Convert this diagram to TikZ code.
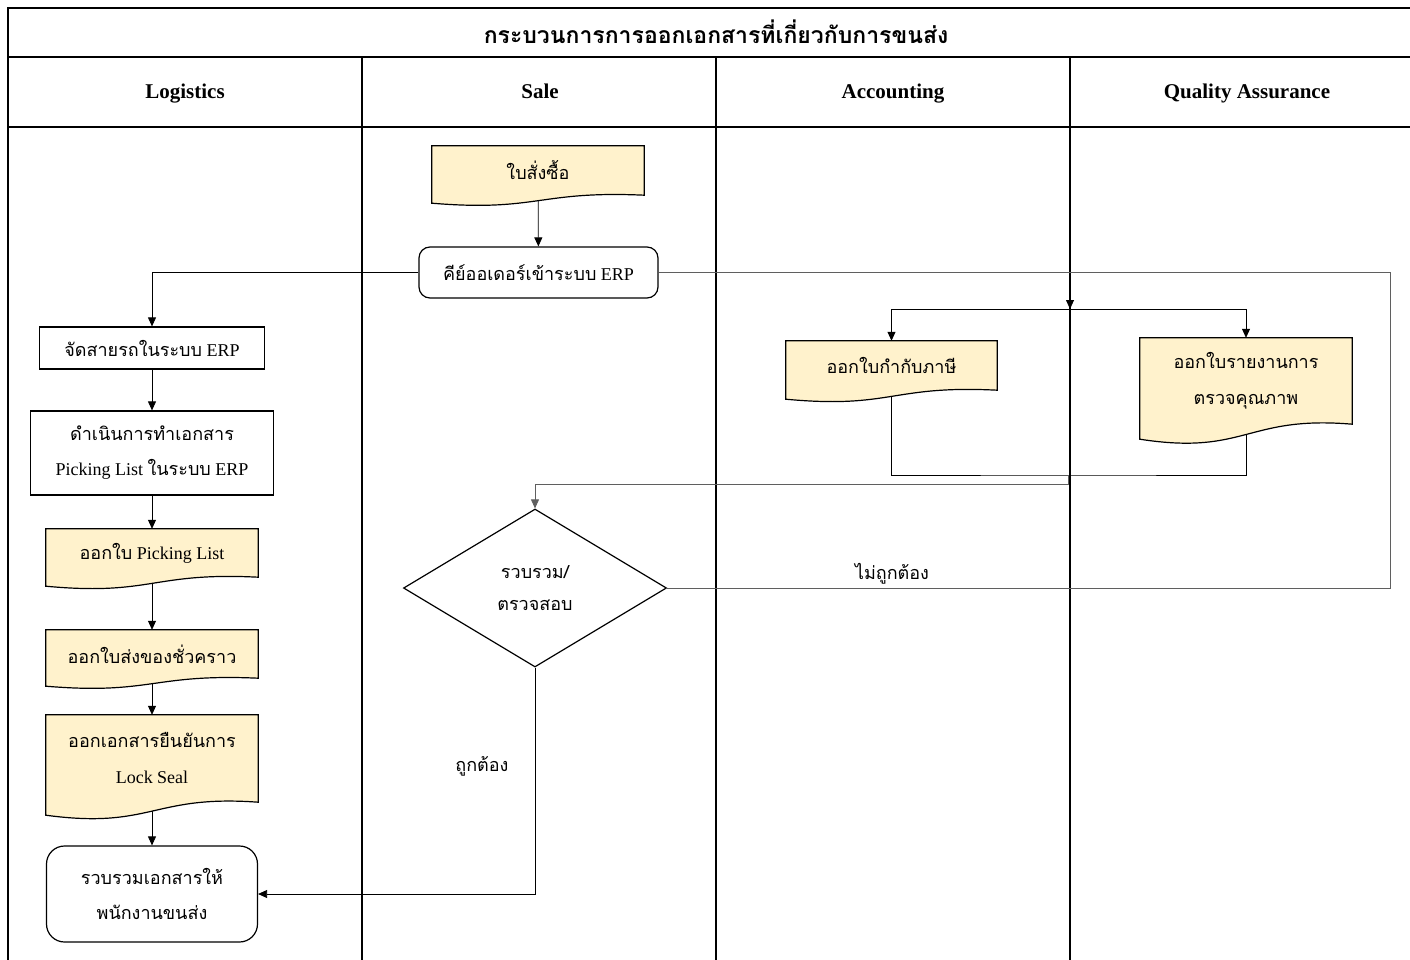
\documentclass[tikz,border=0pt]{standalone}
\usepackage{fontspec}
\setmainfont{Liberation Serif}
\newfontfamily\thai[Script=Thai]{Loma}
\usepackage{tikz}
\usetikzlibrary{arrows.meta,positioning,calc,shapes.geometric,backgrounds}
\definecolor{docyellow}{RGB}{255,242,204}
\definecolor{linegray}{RGB}{95,95,95}
% wavy bottom outline for a document node
\newcommand{\docshape}[2]{%
  \filldraw[docline] (#1.south east) -- (#1.north east) -- (#1.north west) -- ($(#1.south west)+(0,#2)$)
    .. controls ($(#1.south)+(0,2.1*#2)$) and ($(#1.south)+(0,-0.6*#2)$) .. (#1.south east) -- cycle;}

\begin{document}
\begin{tikzpicture}[x=1pt,y=-1pt,>={Triangle[length=9pt,width=8pt]},
 frame/.style={line width=1.5pt},
 box/.style={draw,line width=1.2pt,fill=white,align=center,inner sep=0pt,font=\fontsize{18}{35}\selectfont},
 rbox/.style={box,rounded corners=11pt},
 doc/.style={align=center,inner sep=0pt,font=\fontsize{18}{36}\selectfont},
 docline/.style={draw=black,line width=1.2pt,fill=docyellow},
 dec/.style={diamond,draw,line width=1.2pt,fill=white,align=center,inner sep=0pt,
   minimum width=263,minimum height=158,font=\fontsize{18}{32}\selectfont},
 head/.style={font=\bfseries\fontsize{21}{24}\selectfont,text height=14pt,text depth=4pt},
 lbl/.style={font=\thai\fontsize{18}{22}\selectfont},
 flow/.style={line width=0.8pt},
 flow2/.style={line width=0.8pt,draw=linegray}]
\useasboundingbox (0,0) rectangle (1410,960);
% title and lanes
\node[font=\thai\bfseries\fontsize{23}{26}\selectfont] (ttl) at (716,32) {กระบวนการการออกเอกสารที่เกี่ยวกับการขนส่ง};
\node[head] (hlog) at (185,94) {Logistics};
\node[head] (hsale) at (540,94) {Sale};
\node[head] (hacc) at (893,94) {Accounting};
\node[head] (hqa) at (1247,94) {Quality Assurance};
% Sale
\node[doc,minimum width=212,minimum height=49] (po) at (538,170.5) {{\thai ใบสั่งซื้อ}};
\node[rbox,minimum width=239,minimum height=51] (key) at (538.5,272.5) {{\thai คีย์ออเดอร์เข้าระบบ} ERP};
\node[dec] (dec) at (535,588) {{\thai รวบรวม/}\\{\thai ตรวจสอบ}};
% Logistics
\node[box,minimum width=225,minimum height=42] (truck) at (152,348) {{\thai จัดสายรถในระบบ} ERP};
\node[box,minimum width=243,minimum height=84] (pick) at (152,453) {{\thai ดำเนินการทำเอกสาร}\\Picking List {\thai ในระบบ} ERP};
\node[doc,minimum width=212,minimum height=48] (pickdoc) at (152,553) {{\thai ออกใบ} Picking List};
\node[doc,minimum width=212,minimum height=48] (dnote) at (152,654) {{\thai ออกใบส่งของชั่วคราว}};
\node[doc,minimum width=212,minimum height=87] (seal) at (152,758.5) {{\thai ออกเอกสารยืนยันการ}\\Lock Seal};
\node[rbox,rounded corners=18pt,minimum width=211,minimum height=96] (hand) at (152,894) {{\thai รวบรวมเอกสารให้}\\{\thai พนักงานขนส่ง}};
% Accounting, QA
\node[doc,minimum width=211,minimum height=49] (tax) at (891.5,365.5) {{\thai ออกใบกำกับภาษี}};
\node[doc,minimum width=212,minimum height=86] (qa) at (1246,381) {{\thai ออกใบรายงานการ}\\{\thai ตรวจคุณภาพ}};
\node[lbl] (lwrong) at (892,574) {ไม่ถูกต้อง};
\node[lbl] (lright) at (482,766) {ถูกต้อง};
\coordinate (split) at (1070,309);
\coordinate (merge) at (1068,475);
\coordinate (loop) at (1390,588);
\begin{scope}[on background layer]
\fill[white] (0,0) rectangle (1410,960);
\draw[frame] (8,962) -- (8,8) -- (1414,8);
\draw[frame] (8,57) -- (1414,57);
\draw[frame] (8,127) -- (1414,127);
\foreach \x in {362,716,1070}
  \draw[frame] (\x,57) -- (\x,962);
% connectors
\draw[->,flow] (po) -- (key);
\draw[->,flow] (key.west) -| (truck.north);
\draw[->,flow] (truck) -- (pick);
\draw[->,flow] (pick) -- (pickdoc);
\draw[->,flow] (pickdoc) -- (dnote);
\draw[->,flow] (dnote) -- (seal);
\draw[->,flow] (seal) -- (hand);
\draw[->,flow] (key.east) -- (key.east -| split) -- (split);
\draw[->,flow] (split) -| (tax.north);
\draw[->,flow] (split) -| (qa.north);
\draw[flow] (tax.south) |- (merge) -| (qa.south);
\draw[->,flow2] (merge) -- ++(0,9) -| (dec.north);
\draw[flow2] (dec.east) -- (loop) |- (key.east);
\draw[->,flow] (dec.south) |- (hand.east);
% document shapes
\docshape{po}{8}
\docshape{pickdoc}{9}
\docshape{dnote}{8}
\docshape{seal}{13}
\docshape{tax}{9}
\docshape{qa}{15}
\end{scope}
\end{tikzpicture}
\end{document}
